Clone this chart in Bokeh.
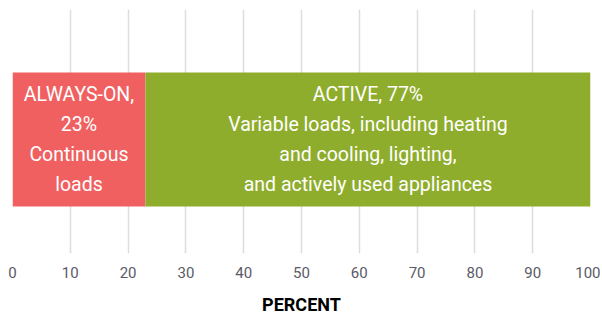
from bokeh.plotting import figure
from bokeh.models import ColumnDataSource, Range1d, FixedTicker
from bokeh.core.properties import value
from bokeh.embed import file_html
from bokeh.resources import INLINE
import numpy as np

categories = ["ALWAYS-ON", "ACTIVE"]
shares = [23, 77]
bar_colors = ["#f06060", "#8fad2d"]
bar_labels = [
    "ALWAYS-ON,\n23%\nContinuous\nloads",
    "ACTIVE, 77%\nVariable loads, including heating\nand cooling, lighting,\nand actively used appliances",
]
x_ticks = [0, 10, 20, 30, 40, 50, 60, 70, 80, 90, 100]
x_title = "PERCENT"

FONT = "Roboto"

right = np.cumsum(shares)
left = right - np.array(shares)
src = ColumnDataSource(dict(
    cat=categories, left=left, right=right, color=bar_colors,
    mid=(left + right) / 2, label=bar_labels, y=[0] * len(categories),
))

p = figure(width=600, height=317, output_backend="svg", toolbar_location=None,
           x_range=Range1d(0, 100), y_range=Range1d(-0.851, 0.970),
           min_border_left=12, min_border_right=10, min_border_top=9, min_border_bottom=60)
p.outline_line_color = None
p.background_fill_color = "white"

p.hbar(y="y", left="left", right="right", height=1, color="color", source=src,
       line_color=None)
p.text(x="mid", y="y", text="label", source=src, text_align="center",
       text_baseline="middle", text_color="white", text_font=value(FONT),
       text_font_size="19.5px", text_line_height=1.3)

p.yaxis.visible = False
p.ygrid.visible = False
p.xgrid.ticker = FixedTicker(ticks=x_ticks)
p.xgrid.grid_line_color = "#dddddd"
p.xgrid.grid_line_width = 1.5
p.xaxis.ticker = FixedTicker(ticks=x_ticks)
p.xaxis.axis_line_color = None
p.xaxis.major_tick_line_color = None
p.xaxis.minor_tick_line_color = None
p.xaxis.major_label_text_font = FONT
p.xaxis.major_label_text_font_size = "15px"
p.xaxis.major_label_text_color = "#5a5a66"
p.xaxis.major_label_standoff = 7
p.xaxis.axis_label = x_title
p.xaxis.axis_label_text_font = FONT
p.xaxis.axis_label_text_font_style = "bold"
p.xaxis.axis_label_text_font_size = "18px"
p.xaxis.axis_label_text_color = "black"
p.xaxis.axis_label_standoff = 13

open("out.html", "w").write(file_html(p, INLINE))
